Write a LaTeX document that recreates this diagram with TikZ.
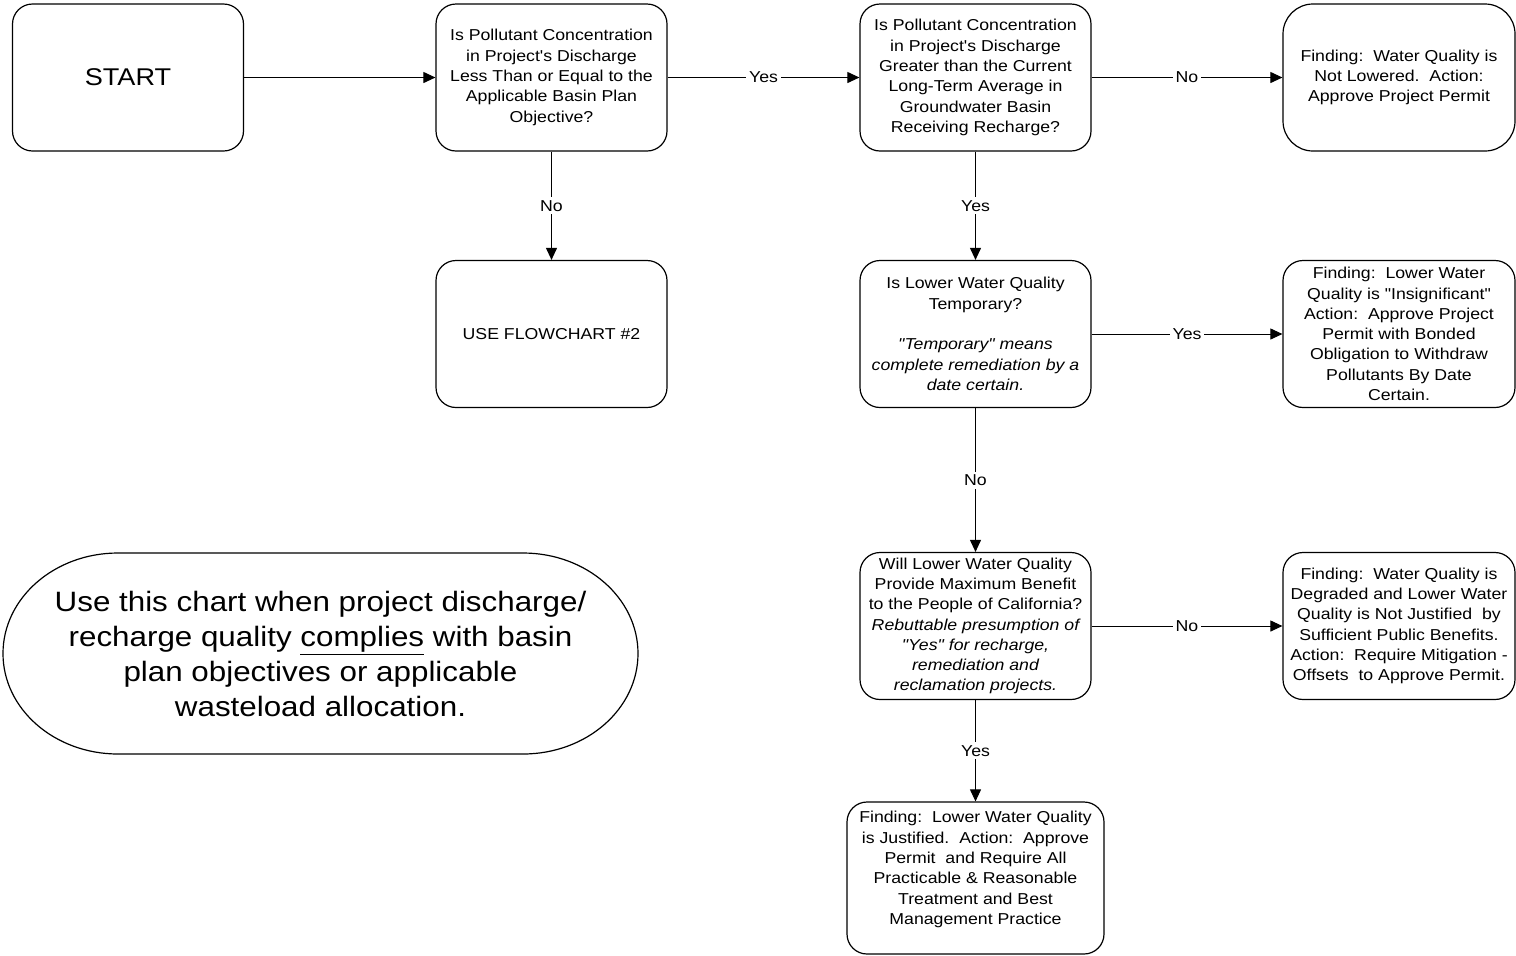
\documentclass[tikz,border=0pt]{standalone}
\usepackage{fontspec}
\setmainfont{Liberation Sans}[Ligatures=TeXOff, FakeStretch=1.12]
\usetikzlibrary{arrows.meta}
\begin{document}
\begin{tikzpicture}[x=0.5pt,y=-0.5pt,
  box/.style={draw, line width=0.6pt, rounded corners=10pt, align=center,
    minimum width=115.5pt, minimum height=73.5pt, inner sep=1pt,
    font=\fontsize{7.9}{10.15}\selectfont},
  arr/.style={line width=0.5pt, -{Triangle[length=6pt,width=5.5pt]}},
  lbl/.style={fill=white, inner sep=1.5pt, font=\fontsize{7.9}{10.15}\selectfont}]
\useasboundingbox (0,0) rectangle (1516,955);

\node[box, font=\fontsize{12.1}{15}\selectfont] (start) at (128,77.5) {START};
\node[box] (q1) at (551.5,77.5) {Is Pollutant Concentration\\in Project's Discharge\\Less Than or Equal to the\\Applicable Basin Plan\\Objective?};
\node[box] (q2) at (975.5,77.5) {Is Pollutant Concentration\\in Project's Discharge\\Greater than the Current\\Long-Term Average in\\Groundwater Basin\\Receiving Recharge?};
\node[box, rounded corners=15pt, minimum width=116pt] (r1) at (1399,77.5) {Finding:\ \ Water Quality is\\Not Lowered.\ \ Action:\\Approve Project Permit};
\node[box] (fc2) at (551.5,334) {USE FLOWCHART \#2};
\node[box] (q3) at (975.5,334) {Is Lower Water Quality\\Temporary?\\[10.15pt]\itshape "Temporary" means\\\itshape complete remediation by a\\\itshape date certain.};
\node[box, minimum width=116pt] (r2) at (1399,334) {Finding:\ \ Lower Water\\Quality is "Insignificant"\\Action:\ \ Approve Project\\Permit with Bonded\\Obligation to Withdraw\\Pollutants By Date\\Certain.};
\node[box] (q4) at (975.5,626) {Will Lower Water Quality\\Provide Maximum Benefit\\to the People of California?\\\itshape Rebuttable presumption of\\\itshape "Yes" for recharge,\\\itshape remediation and\\\itshape reclamation projects.};
\node[box, minimum width=116pt] (r3) at (1399,626) {Finding:\ \ Water Quality is\\Degraded and Lower Water\\Quality is Not Justified\ \ by\\Sufficient Public Benefits.\\Action:\ \ Require Mitigation -\\Offsets\ \ to Approve Permit.};
\node[box, minimum width=128.5pt, minimum height=76pt] (r4) at (975.5,878) {Finding:\ \ Lower Water Quality\\is Justified.\ \ Action:\ \ Approve\\Permit\ \ and Require All\\Practicable \& Reasonable\\Treatment and Best\\Management Practice\\\mbox{}};

\draw[line width=0.6pt] (118,553) -- (523,553) arc[start angle=90, end angle=-90, x radius=57.5pt, y radius=50.25pt]
  -- (118,754) arc[start angle=270, end angle=90, x radius=57.5pt, y radius=50.25pt] -- cycle;
\node[align=center, font=\fontsize{14}{17.5}\selectfont] (note) at (320.5,653.5)
  {Use this chart when project discharge/\\recharge quality \underline{complies} with basin\\plan objectives or applicable\\wasteload allocation.};

\draw[arr] (start) -- (q1);
\draw[arr] (q1) -- node[lbl]{Yes} (q2);
\draw[arr] (q2) -- node[lbl]{No} (r1);
\draw[arr] (q1) -- node[lbl]{No} (fc2);
\draw[arr] (q2) -- node[lbl]{Yes} (q3);
\draw[arr] (q3) -- node[lbl]{Yes} (r2);
\draw[arr] (q3) -- node[lbl]{No} (q4);
\draw[arr] (q4) -- node[lbl]{No} (r3);
\draw[arr] (q4) -- node[lbl]{Yes} (r4);
\end{tikzpicture}
\end{document}
